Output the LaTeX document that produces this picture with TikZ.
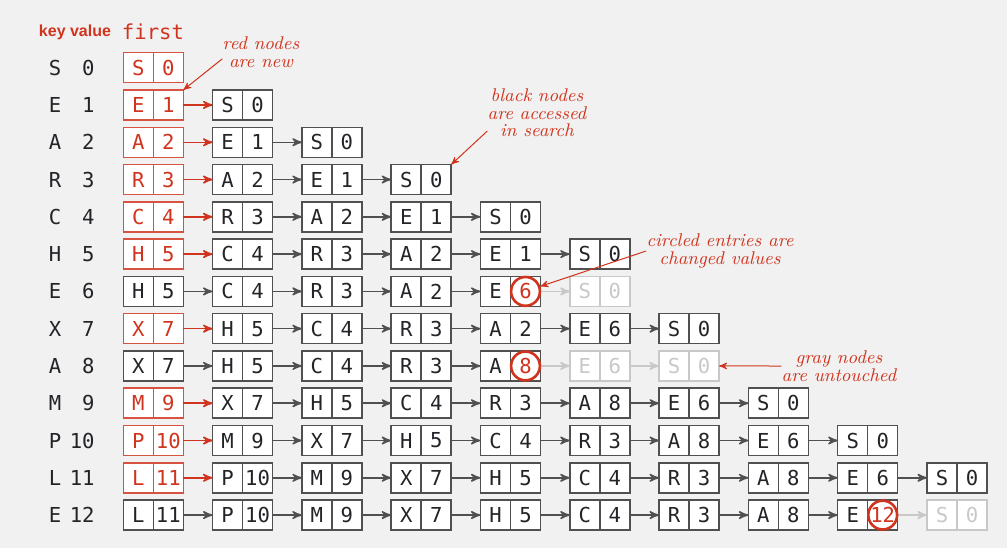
\documentclass[tikz,border=0pt]{standalone}
\usepackage{fontspec}
\setmonofont{DejaVu Sans Mono}
\newfontfamily\headfont{Liberation Sans}
\usetikzlibrary{arrows, positioning}
\definecolor{bg}{RGB}{241,241,241}
\definecolor{newred}{RGB}{208,52,30}
\definecolor{ink}{RGB}{35,35,40}
\definecolor{frame}{RGB}{80,80,80}
\definecolor{faint}{RGB}{200,200,200}
\tikzset{
>=stealth', % arrow heads as in the book
node distance=14.65pt, % gap between two nodes of a list
mono/.style={font=\ttfamily\fontsize{10.3}{11}\selectfont, inner sep=0pt},
cell/.style={mono, draw, fill=white, minimum width=15pt, minimum height=15pt, outer sep=0pt, line width=0.75pt},
rnode/.style={cell, draw=newred!85, text=newred}, % new node
bnode/.style={cell, draw=frame, text=ink}, % accessed node
cnode/.style={bnode}, % accessed node, value changed
gnode/.style={cell, draw=faint, text=faint}, % untouched node
val rnode/.style={}, val bnode/.style={}, val gnode/.style={},
val cnode/.style={text=newred},
link/.style={->, line width=0.75pt},
link rnode/.style={link, newred},
link bnode/.style={link, frame},
link cnode/.style={link, faint},
link gnode/.style={link, faint},
changed/.style={circle, draw=newred, line width=1.3pt, minimum size=14.4pt, inner sep=0pt},
note/.style={text=newred, font=\itshape\fontsize{9.2}{8.8}\selectfont, align=center, inner sep=0pt},
note arrow/.style={->, newred, line width=0.5pt},
}
\begin{document}
\begin{tikzpicture}[x=0.5pt, y=-0.5pt]
  \fill[bg] (0,0) rectangle (1007,548);
  \useasboundingbox (0,0) rectangle (1007,548);
  \node[text=newred, font=\headfont\bfseries\fontsize{8}{9}\selectfont, inner sep=0pt] (hkey) at (75,32) {key value};
  \node[mono, text=newred] (hfirst) at (153,32) {first};
  \foreach \row/\key/\val/\lst in {
      0/S/0/{S/0/rnode},
      1/E/1/{E/1/rnode, S/0/bnode},
      2/A/2/{A/2/rnode, E/1/bnode, S/0/bnode},
      3/R/3/{R/3/rnode, A/2/bnode, E/1/bnode, S/0/bnode},
      4/C/4/{C/4/rnode, R/3/bnode, A/2/bnode, E/1/bnode, S/0/bnode},
      5/H/5/{H/5/rnode, C/4/bnode, R/3/bnode, A/2/bnode, E/1/bnode, S/0/bnode},
      6/E/6/{H/5/bnode, C/4/bnode, R/3/bnode, A/2/bnode, E/6/cnode, S/0/gnode},
      7/X/7/{X/7/rnode, H/5/bnode, C/4/bnode, R/3/bnode, A/2/bnode, E/6/bnode, S/0/bnode},
      8/A/8/{X/7/bnode, H/5/bnode, C/4/bnode, R/3/bnode, A/8/cnode, E/6/gnode, S/0/gnode},
      9/M/9/{M/9/rnode, X/7/bnode, H/5/bnode, C/4/bnode, R/3/bnode, A/8/bnode, E/6/bnode, S/0/bnode},
      10/P/10/{P/10/rnode, M/9/bnode, X/7/bnode, H/5/bnode, C/4/bnode, R/3/bnode, A/8/bnode, E/6/bnode, S/0/bnode},
      11/L/11/{L/11/rnode, P/10/bnode, M/9/bnode, X/7/bnode, H/5/bnode, C/4/bnode, R/3/bnode, A/8/bnode, E/6/bnode, S/0/bnode},
      12/E/12/{L/11/bnode, P/10/bnode, M/9/bnode, X/7/bnode, H/5/bnode, C/4/bnode, R/3/bnode, A/8/bnode, E/12/cnode, S/0/gnode}} {
    \node[mono, text=ink] (k\row) at (55,{67.7+37.28*\row}) {\key};
    \node[mono, text=ink, anchor=east] (w\row) at (95,{67.7+37.28*\row}) {\val};
    \foreach \nk/\nv/\sty [count=\c from 0, remember=\sty as \ps (initially rnode)] in \lst {
      \pgfmathtruncatemacro\pc{\c-1}
      \ifnum\c=0
        \node[\sty] (n\row-\c) at (138.3,{67.7+37.28*\row}) {\nk};
      \else
        \node[\sty, right=of v\row-\pc] (n\row-\c) {\nk};
        \draw[link \ps] (v\row-\pc) -- (n\row-\c);
      \fi
      \node[\sty, val \sty, right=0pt of n\row-\c] (v\row-\c) {\nv};
    }
  }
  \node[changed] (c6) at (v6-4) {};
  \node[changed] (c8) at (v8-4) {};
  \node[changed] (c12) at (v12-8) {};
  \node[note] (rednote) at (261,52) {red nodes\\are new};
  \node[note] (blacknote) at (537,113) {black nodes\\are accessed\\in search};
  \node[note] (circlenote) at (720,251) {circled entries are\\changed values};
  \node[note] (graynote) at (839,366) {gray nodes\\are untouched};
  \draw[note arrow] (rednote.190) -- (v1-0.north east);
  \draw[note arrow] (blacknote.200) -- (v3-3.north east);
  \draw[note arrow] (circlenote.west) -- (c6);
  \draw[note arrow] (graynote.west) -- (v8-6.east);
\end{tikzpicture}
\end{document}
